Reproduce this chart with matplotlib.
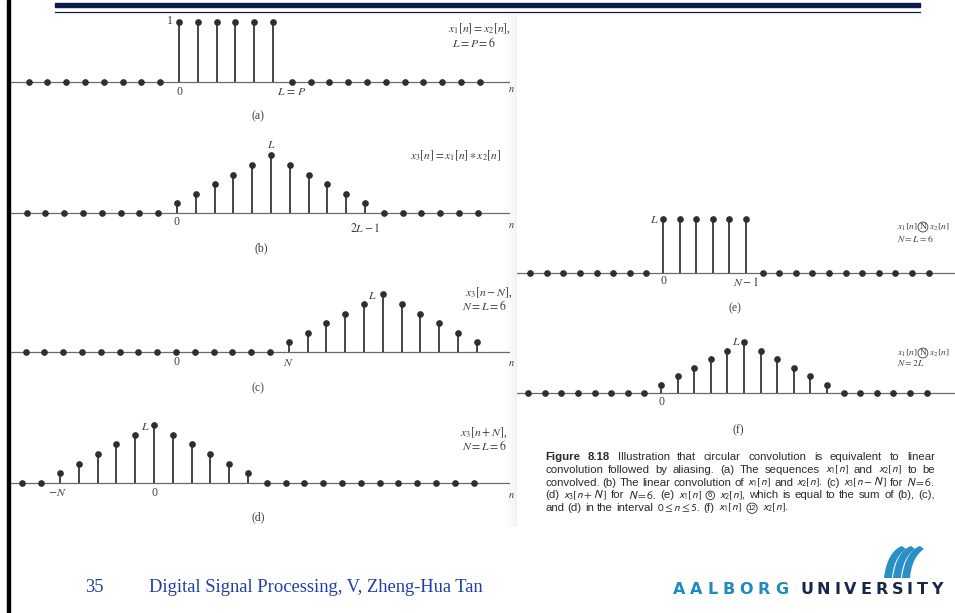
import matplotlib
matplotlib.use("Agg")
import numpy as np
import matplotlib.pyplot as plt
from matplotlib import font_manager as fm
from matplotlib.patches import Rectangle, PathPatch
from matplotlib.path import Path

# ---- data ----
conv = [1, 2, 3, 4, 5, 6, 5, 4, 3, 2, 1]      # x3[n] = x1[n] * x2[n]
box = [1, 1, 1, 1, 1, 1]                       # x1[n] = x2[n], L = P = 6
box_L = [6, 6, 6, 6, 6, 6]                     # 6-point circular conv

n_a = list(range(-8, 17))
x1_vals = [0] * 8 + box + [0] * 11
n_b = list(range(-8, 17))
x3_vals = [0] * 8 + conv + [0] * 6
n_c = list(range(-8, 17))
x3_minus_N = [0] * 14 + conv
n_d = list(range(-7, 18))
x3_plus_N = [0] * 2 + conv + [0] * 12
n_e = list(range(-8, 17))
circ6_vals = [0] * 8 + box_L + [0] * 11
n_f = list(range(-8, 17))
circ12_vals = [0] * 8 + conv + [0] * 6

caption_lines = [
    "Figure 8.18 Illustration that circular convolution is equivalent to linear",
    "convolution followed by aliasing. (a) The sequences $x_1[n]$ and $x_2[n]$ to be",
    "convolved. (b) The linear convolution of $x_1[n]$ and $x_2[n]$. (c) $x_3[n-N\\,]$ for $N=6$.",
    "(d) $x_3[n+N\\,]$ for $N=6$. (e) $x_1[n]$ (6) $x_2[n]$, which is equal to the sum of (b), (c),",
    "and (d) in the interval $0\\leq{}n\\leq{}5$. (f) $x_1[n]$ (12) $x_2[n]$.",
]

W, H = 955, 613
plt.rcParams["font.family"] = ["Liberation Serif", "DejaVu Serif"]
plt.rcParams["mathtext.fontset"] = "stix"

ink = "#2e2e2e"
axis_col = "#6a6a6a"
txt_col = "#3c3c3c"
navy = "#0b1d4f"
blue = "#1f3da6"

names = {f.name for f in fm.fontManager.ttflist}
cap_font = "Liberation Sans Narrow" if "Liberation Sans Narrow" in names else "Liberation Sans"
cap_size = 9.6 if cap_font == "Liberation Sans Narrow" else 8.2

fig = plt.figure(figsize=(W / 100, H / 100), dpi=100)
fig.patch.set_facecolor("white")
renderer = fig.canvas.get_renderer()

# background / slide decoration in pixel coords
bg = fig.add_axes([0, 0, 1, 1])
bg.set_xlim(0, W)
bg.set_ylim(H, 0)
bg.axis("off")
bg.add_patch(Rectangle((7, 0), 3, H, color="black"))
bg.add_patch(Rectangle((55, 3), 865, 3.5, color=navy))
bg.plot([55, 920], [12, 12], color=navy, lw=0.9)
# book gutter shadow
grad = np.linspace(0, 1, 40)[None, :] ** 2
bg.imshow(grad, extent=(500, 517, 527, 15), cmap="Greys", vmin=0, vmax=9,
          aspect="auto", zorder=0)


def fig_text(x, y, s, size=8, ha="left", **kw):
    kw.setdefault("color", txt_col)
    return fig.text(x / W, 1 - y / H, s, ha=ha, va="center", fontsize=size, **kw)


def px_axes(left, right, top, bottom):
    return fig.add_axes([left / W, 1 - bottom / H, (right - left) / W, (bottom - top) / H])


def panel(n, vals, x0, dx, base, unit, left, right):
    top, bottom = base - 80, base + 14
    ax = px_axes(left, right, top, bottom)
    ax.set_xlim((left - x0) / dx, (right - x0) / dx)
    ax.set_ylim((base - bottom) / unit, (base - top) / unit)
    ax.axis("off")
    ax.axhline(0, color=axis_col, lw=0.9)
    ml, sl, bl = ax.stem(n, vals, linefmt="-", markerfmt="o", basefmt=" ")
    plt.setp(sl, color=ink, lw=1.25)
    plt.setp(ml, color=ink, ms=3.8)
    return ax


def lab(ax, s, n, v, dxp, dyp, size=8.5):
    ax.annotate(s, xy=(n, v), xytext=(dxp * 0.72, -dyp * 0.72), textcoords="offset points",
                ha="center", va="center", fontsize=size, color=txt_col, annotation_clip=False)


def fig_seq(x, y, parts, size=8):
    for s, circled in parts:
        kw = {}
        if circled:
            kw["bbox"] = dict(boxstyle="circle,pad=0.1", fc="none", ec=txt_col, lw=0.6)
            x += 1.5
        t = fig_text(x, y, s, size=size, **kw)
        x += t.get_window_extent(renderer).width + (3 if circled else 0.5)
    return x


# (a)
ax = panel(n_a, x1_vals, 179, 18.8, 82, 60, 11, 510)
lab(ax, "1", 0, 1, -9, -1)
lab(ax, "0", 0, 0, 0, 10)
lab(ax, "$L\\,=\\,P$", 6, 0, 0, 10)
fig_text(508, 90, "$n$", size=7.5)
fig_text(258, 116, "(a)", size=8.5, ha="center")
fig_text(448, 29, "$x_1[n]=x_2[n]$,", size=8.5)
fig_text(452, 43, "$L=P=6$", size=8.5)

# (b)
ax = panel(n_b, x3_vals, 177, 18.8, 213, 9.6, 11, 510)
lab(ax, "$L$", 5, 6, 0, -10)
lab(ax, "0", 0, 0, 0, 9)
lab(ax, "$2L-1$", 10, 0, 0, 15)
fig_text(508, 225, "$n$", size=7.5)
fig_text(261, 248, "(b)", size=8.5, ha="center")
fig_text(410, 156, "$x_3[n]=x_1[n]\\ast x_2[n]$", size=8.3)

# (c)
ax = panel(n_c, x3_minus_N, 176, 18.8, 352, 9.6, 11, 510)
lab(ax, "$L$", 11, 6, -10, 2)
lab(ax, "0", 0, 0, 0, 10)
lab(ax, "$N$", 6, 0, 0, 11)
fig_text(508, 364, "$n$", size=7.5)
fig_text(258, 388, "(c)", size=8.5, ha="center")
fig_text(465, 293, "$x_3[n-N]$,", size=8.5)
fig_text(462, 306, "$N=L=6$", size=8.5)

# (d)
ax = panel(n_d, x3_plus_N, 154, 18.8, 483, 9.7, 11, 510)
lab(ax, "$L$", 0, 6, -9, 2)
lab(ax, "$-N$", -5, 0, -3, 10)
lab(ax, "0", 0, 0, 0, 10)
fig_text(508, 495, "$n$", size=7.5)
fig_text(258, 517, "(d)", size=8.5, ha="center")
fig_text(460, 433, "$x_3[n+N]$,", size=8.5)
fig_text(462, 446, "$N=L=6$", size=8.5)

# (e)
ax = panel(n_e, circ6_vals, 663, 16.6, 272.5, 8.9, 517, W)
lab(ax, "$L$", 0, 6, -9, 1)
lab(ax, "0", 0, 0, 0, 9)
lab(ax, "$N-1$", 5, 0, 0, 10)
fig_text(735, 308, "(e)", size=8.5, ha="center")
fig_seq(897, 227, [("$x_1[n]$", False), ("N", True), ("$x_2[n]$", False)], size=6.8)
fig_text(897, 238, "$N=L=6$", size=6.8)

# (f)
ax = panel(n_f, circ12_vals, 661, 16.6, 393, 8.45, 517, W)
lab(ax, "$L$", 5, 6, -8, 0)
lab(ax, "0", 0, 0, 0, 9)
fig_text(738, 430, "(f)", size=8.5, ha="center")
fig_seq(897, 353, [("$x_1[n]$", False), ("N", True), ("$x_2[n]$", False)], size=6.8)
fig_text(897, 363, "$N=2L$", size=6.8)

# caption, justified
cap_left, cap_right = 545, 935
for i, line in enumerate(caption_lines):
    y = 457 + 12.8 * i
    items = []
    for j, word in enumerate(line.split(" ")):
        kw = dict(family=cap_font, math_fontfamily="stixsans", color="#2a2a2a")
        extra = 0
        if word in ("(6)", "(12)"):
            word = word[1:-1]
            kw["bbox"] = dict(boxstyle="circle,pad=0.1", fc="none", ec="#2a2a2a", lw=0.6)
            kw["fontsize"] = cap_size - 2.5
            extra = 5
        if i == 0 and j < 2:
            kw["weight"] = "bold"
        kw.setdefault("fontsize", cap_size)
        t = fig.text(0, 1 - y / H, word, va="center", ha="left", **kw)
        items.append((t, t.get_window_extent(renderer).width + extra, extra))
    total = sum(w for _, w, _ in items)
    if i < len(caption_lines) - 1:
        gap = max((cap_right - cap_left - total) / (len(items) - 1), 1.5)
    else:
        gap = 3.4
    x = cap_left
    for t, w, extra in items:
        t.set_x((x + extra / 2) / W)
        x += w + gap

# footer
fig_text(94, 588, "35", size=13.3, ha="center", color=blue)
fig_text(149, 588, "Digital Signal Processing, V, Zheng-Hua Tan", size=13.3, color=blue)


# logo text with tracking
def tracked(x_left, x_right, y, s, color, size):
    ts = [fig.text(0, 1 - y / H, c, fontsize=size, weight="bold", family="DejaVu Sans",
                   color=color, va="center", ha="left") for c in s]
    ws = [t.get_window_extent(renderer).width for t in ts]
    trk = (x_right - x_left - sum(ws)) / (len(s) - 1)
    x = x_left
    for t, w in zip(ts, ws):
        t.set_x(x / W)
        x += w + trk


tracked(673, 788, 590, "AALBORG", "#1f8bbd", 11.5)
tracked(800, 943, 590, "UNIVERSITY", "#17264a", 11.5)

# logo mark
for x0 in (884, 893, 902):
    verts = [(x0, 578), (x0 + 8, 578),
             (x0 + 9, 566), (x0 + 13, 555), (x0 + 22, 549),
             (x0 + 18, 546),
             (x0 + 9, 549), (x0 + 2, 560), (x0, 578), (x0, 578)]
    codes = [Path.MOVETO, Path.LINETO,
             Path.CURVE4, Path.CURVE4, Path.CURVE4,
             Path.LINETO,
             Path.CURVE4, Path.CURVE4, Path.CURVE4, Path.CLOSEPOLY]
    bg.add_patch(PathPatch(Path(verts, codes), fc="#2a8fc4", ec="none"))

fig.savefig("out.png", dpi=100)
